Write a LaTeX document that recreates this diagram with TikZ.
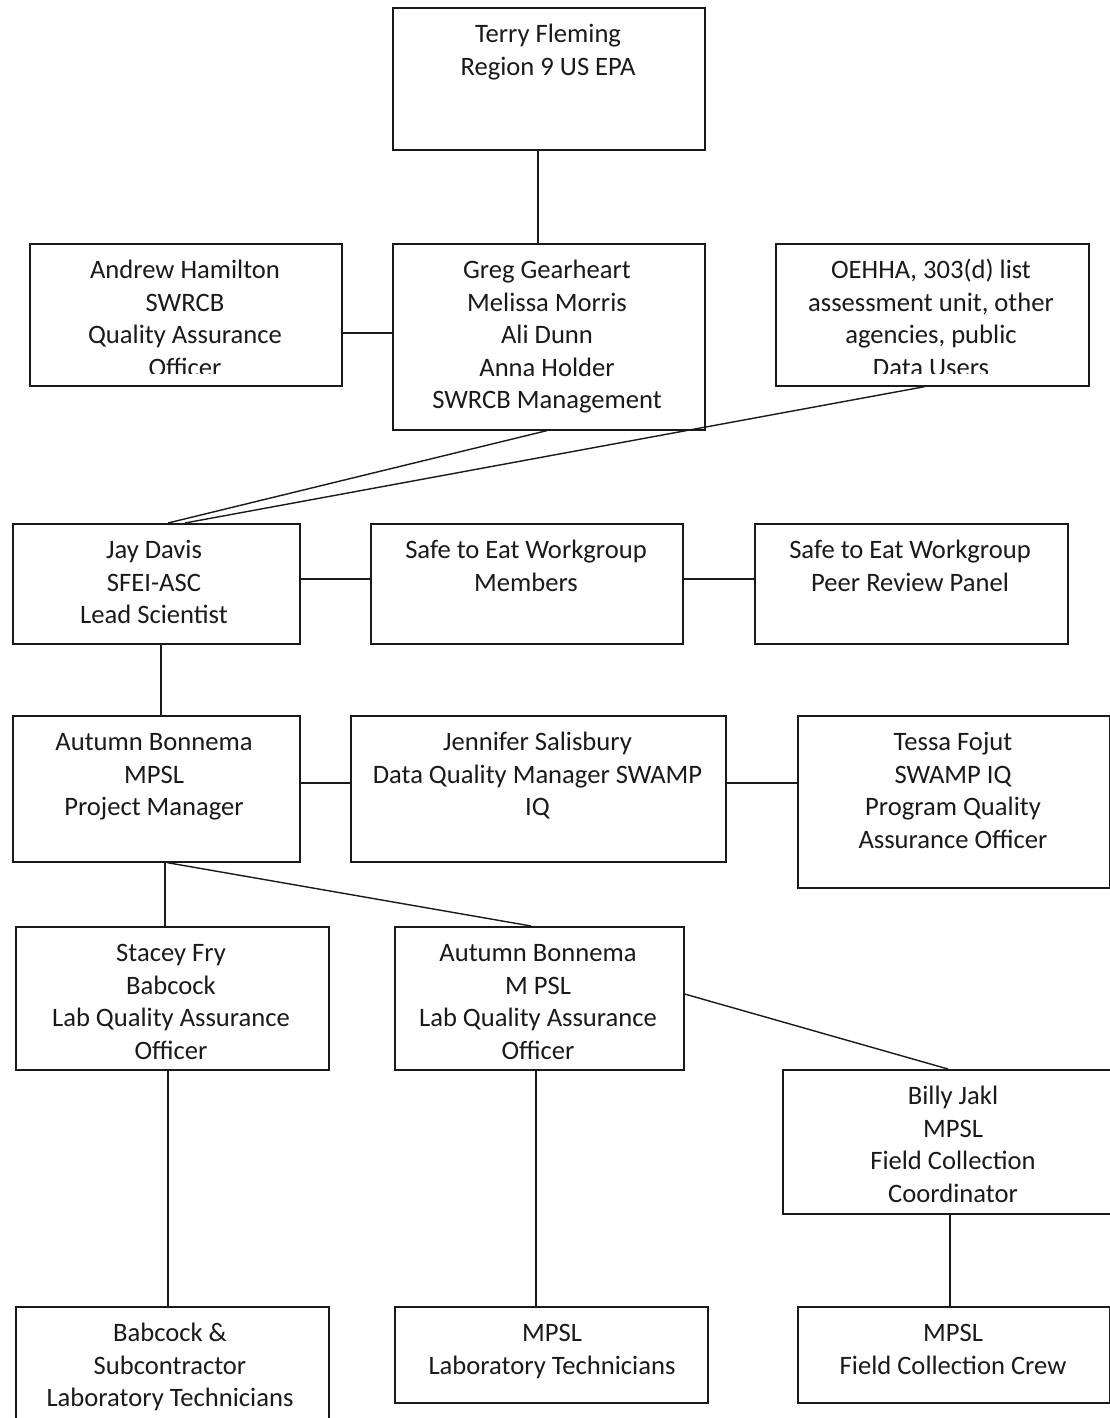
\documentclass[tikz,border=0pt]{standalone}
\usepackage{fontspec}
\setmainfont{Carlito}
\usetikzlibrary{calc}
\definecolor{ink}{HTML}{1A1A1A}
\newcommand\obox[5]{\node[obox, minimum width=#4pt, minimum height=#5pt, anchor=north west] (#1) at (#2,#3) {};}
\newcommand\otext[4]{\node[otext] (#1) at (#2,#3+11.5) {\rule{0pt}{24pt}#4};}
\begin{document}
\begin{tikzpicture}[x=1pt,y=-1pt,
  obox/.style={draw=ink, line width=1.6pt, fill=none, inner sep=0pt, rectangle},
  otext/.style={anchor=north, inner sep=0pt, align=center, text=ink, font=\fontsize{26.6}{32.5}\selectfont},
  conn/.style={draw=ink, line width=1.4pt}]
\useasboundingbox[fill=white] (0,0) rectangle (1110,1418);
% boxes
\obox{terry}{392}{7}{312}{142}
\obox{andrew}{29}{243}{312}{142}
\obox{greg}{392}{243}{312}{186}
\obox{oehha}{775}{243}{313}{142}
\obox{jay}{12}{523}{287}{120}
\obox{safe}{370}{523}{312}{120}
\obox{peer}{754}{523}{313}{120}
\obox{autumn}{12}{715}{287}{146}
\obox{jen}{350}{715}{375}{146}
\obox{tessa}{797}{715}{312}{172}
\obox{stacey}{15}{926}{313}{143}
\obox{autlab}{394}{926}{289}{143}
\obox{billy}{782}{1069}{342}{144}
\obox{babcock}{15}{1306}{313}{150}
\obox{mpsl}{394}{1306}{313}{96}
\obox{crew}{797}{1306}{312}{96}
% texts
\otext{terryT}{548}{7}{Terry Fleming\\Region 9 US EPA}
\begin{scope}
\clip (0,0) rectangle (1110,373);
\otext{andrewT}{185}{243}{Andrew Hamilton\\SWRCB\\Quality Assurance\\Officer}
\otext{oehhaT}{931}{243}{OEHHA, 303(d) list\\assessment unit, other\\agencies, public\\Data Users}
\end{scope}
\otext{gregT}{547}{243}{Greg Gearheart\\Melissa Morris\\Ali Dunn\\Anna Holder\\SWRCB Management}
\otext{jayT}{154}{523}{Jay Davis\\SFEI-ASC\\Lead Scientist}
\otext{safeT}{526}{523}{Safe to Eat Workgroup\\Members}
\otext{peerT}{910}{523}{Safe to Eat Workgroup\\Peer Review Panel}
\otext{autumnT}{154}{715}{Autumn Bonnema\\MPSL\\Project Manager}
\otext{jenT}{537.5}{715}{Jennifer Salisbury\\Data Quality Manager SWAMP\\IQ}
\otext{tessaT}{953}{715}{Tessa Fojut\\SWAMP IQ\\Program Quality\\Assurance Officer}
\otext{staceyT}{171}{926}{Stacey Fry\\Babcock\\Lab Quality Assurance\\Officer}
\otext{autlabT}{538}{926}{Autumn Bonnema\\M PSL\\Lab Quality Assurance\\Officer}
\otext{billyT}{953}{1069}{Billy Jakl\\MPSL\\Field Collection\\Coordinator}
\otext{babcockT}{170}{1306}{Babcock \&\\Subcontractor\\Laboratory Technicians}
\otext{mpslT}{552}{1306}{MPSL\\Laboratory Technicians}
\otext{crewT}{953}{1306}{MPSL\\Field Collection Crew}
% connectors
\draw[conn] ([xshift=146pt]terry.south west) -- ([xshift=146pt]greg.north west);
\draw[conn] ([yshift=-90pt]andrew.north east) -- ([yshift=-90pt]greg.north west);
\draw[conn] ([xshift=155pt]greg.south west) -- ([xshift=156pt]jay.north west);
\draw[conn] ([xshift=150pt]oehha.south west) -- ([xshift=173pt]jay.north west);
\draw[conn] ([yshift=-56pt]jay.north east) -- ([yshift=-56pt]safe.north west);
\draw[conn] ([yshift=-56pt]safe.north east) -- ([yshift=-56pt]peer.north west);
\draw[conn] ([xshift=149pt]jay.south west) -- ([xshift=149pt]autumn.north west);
\draw[conn] ([yshift=-68pt]autumn.north east) -- ([yshift=-68pt]jen.north west);
\draw[conn] ([yshift=-68pt]jen.north east) -- ([yshift=-68pt]tessa.north west);
\draw[conn] ([xshift=153pt]autumn.south west) -- ([xshift=150pt]stacey.north west);
\draw[conn] ([xshift=155pt]autumn.south west) -- ([xshift=137pt]autlab.north west);
\draw[conn] ([yshift=-68pt]autlab.north east) -- ([xshift=166pt]billy.north west);
\draw[conn] ([xshift=153pt]stacey.south west) -- ([xshift=153pt]babcock.north west);
\draw[conn] ([xshift=142pt]autlab.south west) -- ([xshift=142pt]mpsl.north west);
\draw[conn] ([xshift=168pt]billy.south west) -- ([xshift=153pt]crew.north west);
\end{tikzpicture}
\end{document}
